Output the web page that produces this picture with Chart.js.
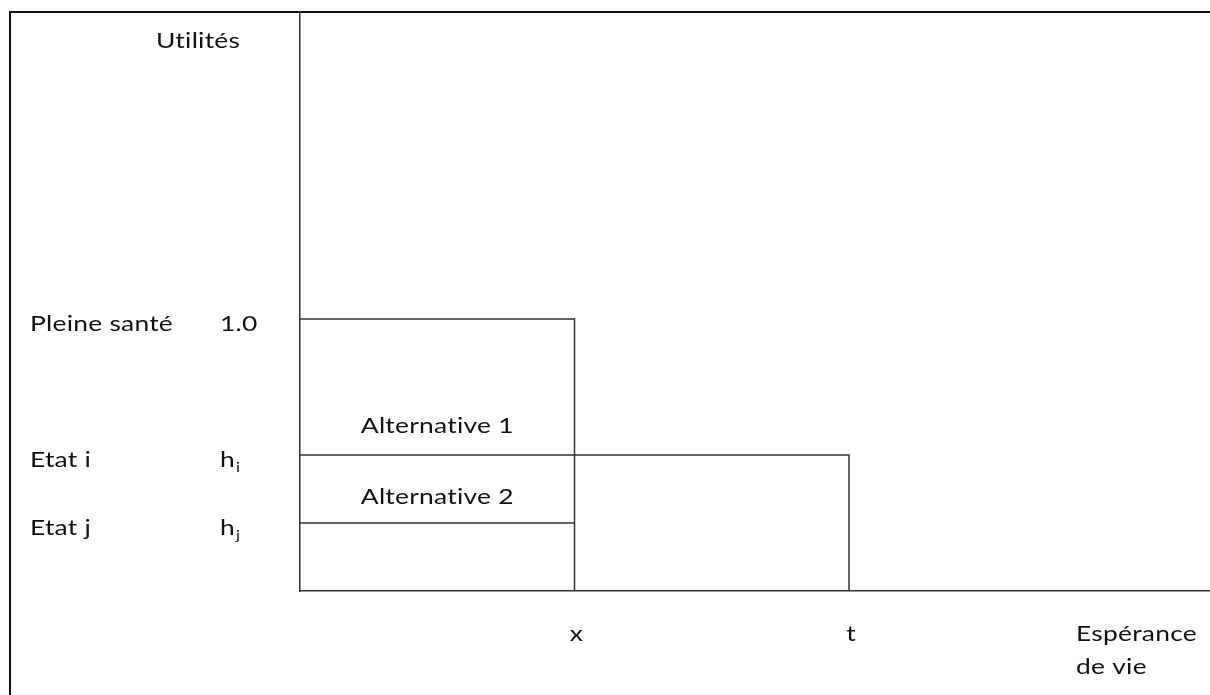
<!DOCTYPE html>
<html lang="fr">
<head>
  <meta charset="UTF-8">
  <title>Utilités - Alternatives</title>
  <script src="https://cdn.jsdelivr.net/npm/chart.js"></script>
  <style>
    body { margin: 0; background: #fff; overflow: hidden; }
    #cadre { position: absolute; left: 9px; top: 11px; width: 1300px; height: 800px; border: 2px solid #111; }
    #titre { position: absolute; left: 0; top: -27px; width: 1210px; text-align: center; font: bold 22px Lato; color: #111;
             white-space: nowrap; transform: scaleX(1.2); letter-spacing: 0.2px; }
    #zone { position: absolute; left: 0; top: 0; width: 1210px; height: 695px; }
  </style>
</head>
<body>
  <div id="titre">Figure 1 : Méthodologie du principe de l'arbitrage temporel</div>
  <div id="cadre"></div>
  <div id="zone"><canvas id="graphique"></canvas></div>
<script>

  // etats de sante et leurs utilites
  const etats = ['Pleine santé', 'Etat i', 'Etat j'];
  const utilites = [1.0, 0.5, 0.25];
  const utiliteLabels = ['1.0', 'h', 'h'];
  const utiliteIndices = ['', 'i', 'j'];

  // durees (axe des x)
  const durees = [1, 2];
  const dureeLabels = ['x', 't'];

  const alternatives = ['Alternative 1', 'Alternative 2'];
  const titreY = 'Utilités';
  const titreX = ['Espérance', 'de vie'];

  const police = '22px Lato';
  const policeIndice = '14px Lato';
  const etirement = 1.2; // le texte de l'original est plus large que haut
  const couleurTexte = '#111';
  const couleurTrait = '#333';

  const datasets = [
    {
      label: alternatives[0],
      data: [{x: 0, y: utilites[0]}, {x: durees[0], y: utilites[0]}, {x: durees[0], y: 0}]
    },
    {
      label: alternatives[1],
      data: [{x: 0, y: utilites[1]}, {x: durees[1], y: utilites[1]}, {x: durees[1], y: 0}]
    },
    {
      label: etats[2],
      data: [{x: 0, y: utilites[2]}, {x: durees[0], y: utilites[2]}]
    }
  ].map(ds => ({
    ...ds,
    showLine: true,
    fill: false,
    borderColor: couleurTrait,
    borderWidth: 1.5,
    pointRadius: 0,
    tension: 0
  }));

  // ecrit un texte etire horizontalement, retourne sa largeur
  function texte(ctx, str, x, y, align, font) {
    ctx.save();
    ctx.font = font || police;
    if ('letterSpacing' in ctx) ctx.letterSpacing = '0.2px';
    ctx.translate(x, y);
    ctx.scale(etirement, 1);
    ctx.textAlign = align || 'left';
    ctx.fillText(str, 0, 0);
    const w = ctx.measureText(str).width * etirement;
    ctx.restore();
    return w;
  }

  // textes du schema, places avec les echelles du graphique
  const etiquettes = {
    id: 'etiquettes',
    afterDraw(chart) {
      const ctx = chart.ctx;
      const sx = chart.scales.x;
      const sy = chart.scales.y;
      const zone = chart.chartArea;

      ctx.save();
      ctx.fillStyle = couleurTexte;
      ctx.textBaseline = 'alphabetic';

      // titre de l'axe y
      texte(ctx, titreY, zone.left - 144, zone.top + 36);

      // etats a gauche
      etats.forEach((etat, i) => {
        const py = sy.getPixelForValue(utilites[i]) + 12;
        texte(ctx, etat, 30, py);
        const w = texte(ctx, utiliteLabels[i], zone.left - 80, py);
        if (utiliteIndices[i]) {
          texte(ctx, utiliteIndices[i], zone.left - 80 + w + 1, py + 5, 'left', policeIndice);
        }
      });

      // alternatives
      const cx = sx.getPixelForValue(durees[0] / 2);
      texte(ctx, alternatives[0], cx, sy.getPixelForValue(utilites[1]) - 22, 'center');
      texte(ctx, alternatives[1], cx, sy.getPixelForValue(utilites[2]) - 19, 'center');

      // durees sous l'axe x
      durees.forEach((d, k) => {
        texte(ctx, dureeLabels[k], sx.getPixelForValue(d) + 2, zone.bottom + 50, 'center');
      });

      texte(ctx, titreX[0], zone.right - 134, zone.bottom + 50);
      texte(ctx, titreX[1], zone.right - 134, zone.bottom + 83);

      ctx.restore();
    }
  };

  const axe = (max) => ({
    type: 'linear',
    min: 0,
    max: max,
    grid: { display: false, drawTicks: false },
    ticks: { display: false },
    border: { display: true, color: couleurTrait, width: 1.5 }
  });

  const ctx = document.getElementById('graphique').getContext('2d');

  const monGraphique = new Chart(ctx, {
    type: 'scatter',
    data: { datasets: datasets },
    options: {
      responsive: true,
      maintainAspectRatio: false,
      animation: false,
      layout: { padding: { left: 300, top: 12, right: 0, bottom: 104 } },
      scales: {
        x: axe(3.315),
        y: axe(2.129)
      },
      plugins: {
        legend: { display: false },
        tooltip: { enabled: false }
      }
    },
    plugins: [etiquettes]
  });

</script>
</body>
</html>
